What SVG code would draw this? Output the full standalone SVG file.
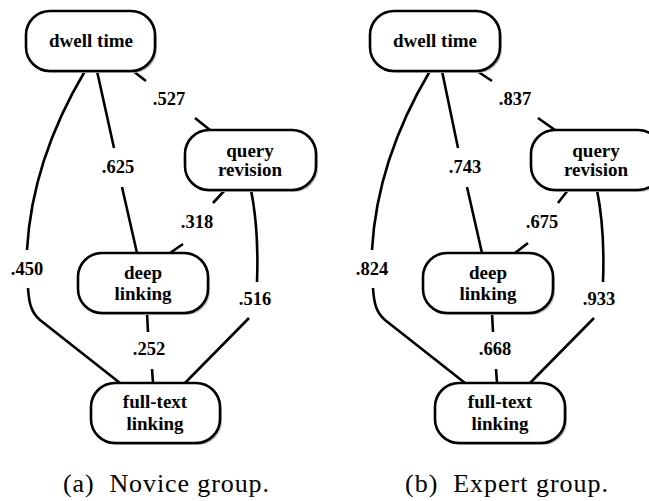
<svg xmlns="http://www.w3.org/2000/svg" width="649" height="501" viewBox="0 0 649 501">
<style>
.box{fill:#fff;stroke:#000;stroke-width:2.6}
.sh{fill:#bbb;stroke:none}
text.nt{font-family:'Liberation Serif',serif;font-weight:700;font-size:19px;text-anchor:middle;fill:#000}
text.lb{font-family:'Liberation Serif',serif;font-weight:700;font-size:18.5px;text-anchor:middle;fill:#000}
text.cap{font-family:'Liberation Serif',serif;font-size:26px;fill:#000}
.e{fill:none;stroke:#000;stroke-width:2.6}
</style>
<rect width="649" height="501" fill="#fff"/>
<g id="connectors">
<path class="e" d="M133,71 L146,81 M195,118 L210,130"/>
<path class="e" d="M97,71 L114,148 M122,187 L137,253"/>
<path class="e" d="M85,71 Q32,160 27,250 M28,288 C29,305 32,313 40,320 L120,383"/>
<path class="e" d="M225,190 L213,203 M183,244 L170,253"/>
<path class="e" d="M251,190 Q259,230 257,282 M249,318 L185,383"/>
<path class="e" d="M147,313 L148,332 M152,369 L153,383"/>
<path class="e" d="M477,71 L492,81 M538,118 L555,130"/>
<path class="e" d="M442,71 L458,148 M467,187 L482,253"/>
<path class="e" d="M430,71 Q377,160 372,250 M373,288 C374,305 377,313 385,320 L465,383"/>
<path class="e" d="M568,190 L558,203 M528,243 L515,253"/>
<path class="e" d="M597,190 Q605,230 603,282 M594,318 L530,383"/>
<path class="e" d="M492,313 L493,332 M496,369 L497,383"/>
</g>
<g id="labels">
<text class="lb" x="169" y="105">.527</text>
<text class="lb" x="118" y="173">.625</text>
<text class="lb" x="27" y="275">.450</text>
<text class="lb" x="197" y="228">.318</text>
<text class="lb" x="255" y="305">.516</text>
<text class="lb" x="149" y="355">.252</text>
<text class="lb" x="515" y="105">.837</text>
<text class="lb" x="465" y="173">.743</text>
<text class="lb" x="372" y="275">.824</text>
<text class="lb" x="542" y="228">.675</text>
<text class="lb" x="599" y="305">.933</text>
<text class="lb" x="495" y="355">.668</text>
</g>
<g id="a-dwell">
<rect class="sh" x="28" y="13" width="129" height="60" rx="24"/>
<rect class="box" x="26" y="11" width="129" height="60" rx="24"/>
<text class="nt" x="91" y="47">dwell time</text>
</g>
<g id="a-query">
<rect class="sh" x="187" y="132" width="131" height="60" rx="24"/>
<rect class="box" x="185" y="130" width="131" height="60" rx="24"/>
<text class="nt" x="250" y="157">query</text>
<text class="nt" x="250" y="176">revision</text>
</g>
<g id="a-deep">
<rect class="sh" x="80" y="255" width="130" height="60" rx="24"/>
<rect class="box" x="78" y="253" width="130" height="60" rx="24"/>
<text class="nt" x="143" y="279">deep</text>
<text class="nt" x="143" y="300">linking</text>
</g>
<g id="a-full">
<rect class="sh" x="93" y="385" width="129" height="60" rx="24"/>
<rect class="box" x="91" y="383" width="129" height="60" rx="24"/>
<text class="nt" x="155" y="408">full-text</text>
<text class="nt" x="155" y="430">linking</text>
</g>
<g id="b-dwell">
<rect class="sh" x="372" y="13" width="130" height="60" rx="24"/>
<rect class="box" x="370" y="11" width="130" height="60" rx="24"/>
<text class="nt" x="435" y="47">dwell time</text>
</g>
<g id="b-query">
<rect class="sh" x="533" y="132" width="131" height="60" rx="24"/>
<rect class="box" x="531" y="130" width="131" height="60" rx="24"/>
<text class="nt" x="596" y="157">query</text>
<text class="nt" x="596" y="176">revision</text>
</g>
<g id="b-deep">
<rect class="sh" x="425" y="255" width="130" height="60" rx="24"/>
<rect class="box" x="423" y="253" width="130" height="60" rx="24"/>
<text class="nt" x="488" y="279">deep</text>
<text class="nt" x="488" y="300">linking</text>
</g>
<g id="b-full">
<rect class="sh" x="437" y="385" width="130" height="60" rx="24"/>
<rect class="box" x="435" y="383" width="130" height="60" rx="24"/>
<text class="nt" x="500" y="408">full-text</text>
<text class="nt" x="500" y="430">linking</text>
</g>
<g id="captions">
<text class="cap" x="63" y="492" textLength="206" lengthAdjust="spacing" xml:space="preserve">(a)  Novice group.</text>
<text class="cap" x="405" y="492" textLength="203" lengthAdjust="spacing" xml:space="preserve">(b)  Expert group.</text>
</g>
</svg>
